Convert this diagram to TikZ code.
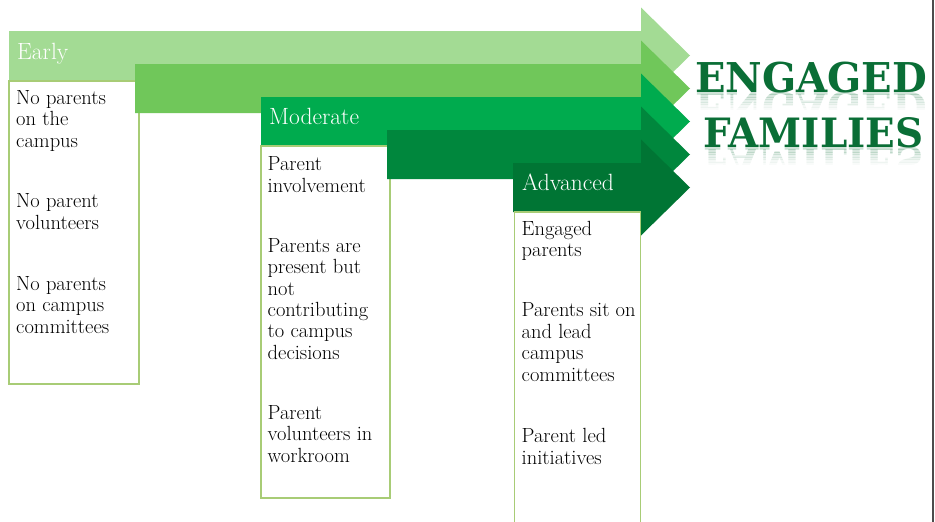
\documentclass[tikz,border=0pt]{standalone}
\usepackage{fontspec}
\newfontfamily\titlefont{DejaVu Serif}
\definecolor{gA}{HTML}{A3DB94}
\definecolor{gB}{HTML}{70C75A}
\definecolor{gC}{HTML}{00AB4E}
\definecolor{gD}{HTML}{00873D}
\definecolor{gE}{HTML}{007534}
\definecolor{boxline}{HTML}{A8CC76}
\definecolor{titlegreen}{HTML}{0A6E36}
\tikzset{
  boxrect/.style={draw=boxline, line width=1.2pt, fill=white},
  stagelabel/.style={anchor=base west, inner sep=0pt, text=white, font=\fontsize{23.5}{27}\selectfont},
  bodytext/.style={anchor=north west, inner sep=0pt, align=left, text=black, font=\fontsize{20.5}{21.4}\selectfont},
  titletext/.style={anchor=base west, inner sep=0pt, text=titlegreen, font=\titlefont\bfseries},
}
\newcommand{\fl}{\rule{0pt}{14.5pt}}
\begin{document}
\begin{tikzpicture}[x=1pt, y=-1pt]
\useasboundingbox (0,0) rectangle (935,522);
\fill[white] (0,0) rectangle (935,522);
% arrow 1
\fill[gA] (9,31) -- (641,31) -- (641,7.5) -- (690,55.5) -- (641,103.5) -- (641,80.5) -- (9,80.5) -- cycle;
\draw[boxrect] (9,81) rectangle (139,384);
% arrow 2
\fill[gB] (135,64) -- (641,64) -- (641,40.5) -- (690,88.5) -- (641,136.5) -- (641,113) -- (135,113) -- cycle;
% arrow 3
\fill[gC] (261,97) -- (641,97) -- (641,73.5) -- (690,121.5) -- (641,169.5) -- (641,146) -- (261,146) -- cycle;
\draw[boxrect] (261,146) rectangle (390,498);
% arrow 4
\fill[gD] (387,130) -- (641,130) -- (641,106.5) -- (690,154.5) -- (641,202.5) -- (641,179) -- (387,179) -- cycle;
% arrow 5
\fill[gE] (513,163) -- (641,163) -- (641,139.5) -- (690,187.5) -- (641,235.5) -- (641,212) -- (513,212) -- cycle;
\draw[boxrect] (514.5,212) rectangle (640.5,540);

% stage labels
\node[stagelabel] (early) at (17,59) {Early};
\node[stagelabel] (moderate) at (269,124) {Moderate};
\node[stagelabel] (advanced) at (522,190) {Advanced};

% box 1 text
\node[bodytext] (e1) at (16,89.5) {\fl No parents\\on the\\campus};
\node[bodytext] (e2) at (16,193) {\fl No parent\\volunteers};
\node[bodytext] (e3) at (16,275.5) {\fl No parents\\on campus\\committees};
% box 2 text
\node[bodytext] (m1) at (267.5,156) {\fl Parent\\involvement};
\node[bodytext] (m2) at (267.5,237.5) {\fl Parents are\\present but\\not\\contributing\\to campus\\decisions};
\node[bodytext] (m3) at (267.5,404.5) {\fl Parent\\volunteers in\\workroom};
% box 3 text
\node[bodytext] (a1) at (521.5,220.5) {\fl Engaged\\parents};
\node[bodytext] (a2) at (521.5,302.2) {\fl Parents sit on\\and lead\\campus\\committees};
\node[bodytext] (a3) at (521.5,428.2) {\fl Parent led\\initiatives};

% title reflections
\foreach \i/\o in {0/0.20,1/0.16,2/0.125,3/0.095,4/0.07,5/0.045,6/0.025}{
  \begin{scope}
    \clip (690,{92+2.5*\i}) rectangle (935,{94.5+2.5*\i});
    \node[titletext, opacity=\o, yscale=-1, transform shape] (rA\i) at (695,92) {\resizebox{232pt}{30.5pt}{ENGAGED}};
  \end{scope}
  \begin{scope}
    \clip (690,{147+2.5*\i}) rectangle (935,{149.5+2.5*\i});
    \node[titletext, opacity=\o, yscale=-1, transform shape] (rB\i) at (703,147) {\resizebox{220pt}{30pt}{FAMILIES}};
  \end{scope}
}
% title
\node[titletext] (t1) at (695,92) {\resizebox{232pt}{30.5pt}{ENGAGED}};
\node[titletext] (t2) at (703,147) {\resizebox{220pt}{30pt}{FAMILIES}};

% screenshot edge
\draw[black!70, line width=1.2pt] (933,0) -- (933,522);
\end{tikzpicture}
\end{document}
